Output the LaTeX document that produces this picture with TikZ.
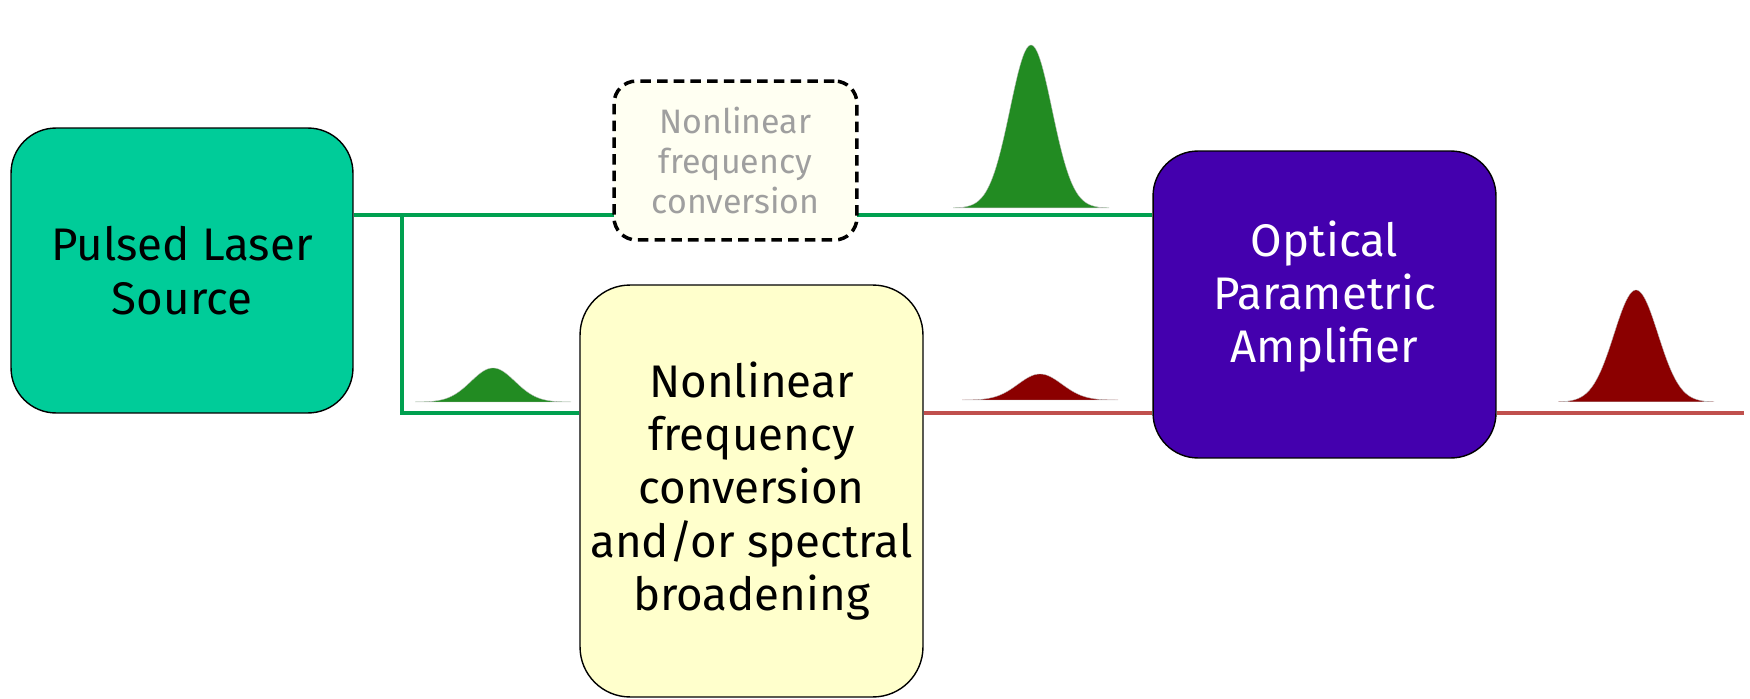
\documentclass[tikz,border=0pt]{standalone}
\usepackage{fontspec}
\setmainfont{Fira Sans}
\usepackage{tikz}
\usetikzlibrary{positioning,backgrounds}

\definecolor{laserteal}{RGB}{0,204,153}
\definecolor{opaviolet}{RGB}{68,0,174}
\definecolor{paleyellow}{RGB}{255,255,204}
\definecolor{paleivory}{RGB}{255,255,242}
\definecolor{beamgreen}{RGB}{0,160,80}
\definecolor{beamred}{RGB}{192,80,77}
\definecolor{pulsegreen}{RGB}{34,139,34}
\definecolor{pulsered}{RGB}{139,0,0}

% gaussian pulse: centre x, base y, height, width (sigma), colour
\newcommand{\drawpulse}[5]{%
    \fill[#5, draw=gray!50, very thin] plot[domain=-78:78, samples=90, smooth]
        ({#1+\x}, {#2-#3*exp(-\x*\x/(2*#4*#4))}) -- cycle;
}

\tikzset {
    style source/.style={
        fill=laserteal,
        draw=black,
        thick,
        rectangle, % Set the shape as a rectangle
        rounded corners=.9cm,
        minimum width=6.84cm,
        minimum height=5.7cm,
        align=center,
        font=\fontsize{26}{30.4}\selectfont,
    },
    style optional/.style={
        fill=paleivory,
        draw=black,
        line width=2pt,
        dash pattern=on 6pt off 3.5pt,
        text=gray!75,
        rectangle, % Set the shape as a rectangle
        rounded corners=.45cm,
        minimum width=4.86cm,
        minimum height=3.18cm,
        align=center,
        font=\fontsize{19.3}{22.7}\selectfont,
    },
    style convert/.style={
        fill=paleyellow,
        draw=black,
        thick,
        rectangle, % Set the shape as a rectangle
        rounded corners=1cm,
        minimum width=6.86cm,
        minimum height=8.24cm,
        align=center,
        font=\fontsize{26}{30.4}\selectfont,
    },
    style amp/.style={
        fill=opaviolet,
        draw=black,
        thick,
        rectangle, % Set the shape as a rectangle
        rounded corners=.9cm,
        minimum width=6.86cm,
        minimum height=6.14cm,
    },
    amp text/.style={
        text=white,
        align=center,
        font=\fontsize{26}{30.4}\selectfont,
    },
    beam/.style={line width=2.7pt},
}

\begin{document}
\begin{tikzpicture}[x=0.02cm, y=-0.02cm]
        \useasboundingbox (0,0) rectangle (1750,699);

        \node[style source] at (182, 270.5) (laser) {Pulsed Laser\\Source};
        \node[style optional] at (735.5, 160.5) (shg) {Nonlinear\\frequency\\conversion};
        \node[style convert] at (751.5, 491) (conv) {Nonlinear\\frequency\\conversion\\and/or spectral\\broadening};
        \node[style amp, label={[amp text, yshift=0.16cm]center:Optical\\Parametric\\Amplifier}] at (1324.5, 304.5) (opa) {};

        \coordinate (tap) at (402, 215);
        \coordinate (low) at (402, 413);
        \coordinate (out) at (1744, 413);

        \begin{scope}[on background layer]
            \draw[beam, beamgreen] (laser.east |- tap) -- (opa.west |- tap);
            \draw[beam, beamgreen] (tap) -- (low) -- (conv.west |- low);
            \draw[beam, beamred] (conv.east |- low) -- (opa.west |- low);
            \draw[beam, beamred] (opa.east |- low) -- (out);
        \end{scope}

        % pulses along the beams
        \drawpulse{1031}{208}{163}{21}{pulsegreen}
        \drawpulse{493}{402}{34}{22}{pulsegreen}
        \drawpulse{1040}{400}{26}{22}{pulsered}
        \drawpulse{1636}{402}{112}{22}{pulsered}
    \end{tikzpicture}
\end{document}
